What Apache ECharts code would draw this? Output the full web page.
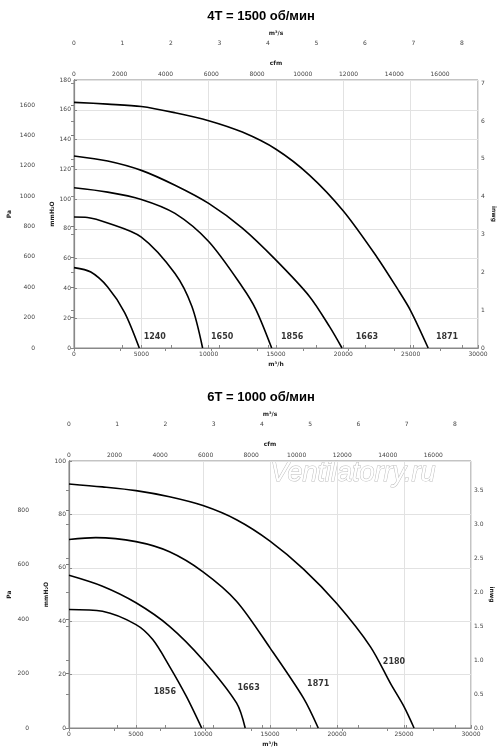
<!DOCTYPE html>
<html>
<head>
<meta charset="utf-8">
<script src="https://cdn.jsdelivr.net/npm/echarts@6/dist/echarts.min.js"></script>
<style>
  html, body { margin: 0; padding: 0; background: #fff; }
  #chart { width: 500px; height: 754px; }
</style>
</head>
<body>
<div id="chart"></div>
<script>
// 4T = 1500 об/мин : flow in m3/h, pressure in mmH2O
const q4_1871 = [0, 2500, 5000, 7500, 10000, 12500, 15000, 17500, 20000, 22500, 24000, 25000, 26300];
const p4_1871 = [165, 163.8, 162.2, 158, 152.7, 145, 133.5, 116, 92, 61, 40, 25, 0];
const q4_1663 = [0, 2500, 5000, 7500, 10000, 12500, 15000, 17500, 19000, 19900];
const p4_1663 = [129, 125.6, 119.3, 109.3, 97.1, 80.5, 59, 34.5, 14, 0];
const q4_1856 = [0, 2500, 5000, 7500, 10000, 12500, 13500, 14680];
const p4_1856 = [107.6, 104.7, 99.8, 90.4, 71.5, 41, 26, 0];
const q4_1650 = [0, 1000, 2500, 5000, 7500, 8750, 9550];
const p4_1650 = [88, 87.7, 84, 74.5, 50, 28, 0];
const q4_1240 = [0, 1250, 2500, 3750, 4850];
const p4_1240 = [54, 51, 41, 24, 0];

// 6T = 1000 об/мин
const q6_2180 = [0, 2500, 5000, 7500, 10000, 12500, 15000, 17500, 20000, 22500, 24000, 25000, 25750];
const p6_2180 = [91.4, 90.3, 88.9, 86.6, 83.3, 78, 70, 59.5, 46.5, 30.4, 16.6, 8, 0];
const q6_1871 = [0, 2000, 5000, 7500, 10000, 12500, 15000, 17500, 18600];
const p6_1871 = [70.6, 71.3, 69.8, 66, 58.5, 47.5, 30, 11.2, 0];
const q6_1663 = [0, 2500, 5000, 7500, 10000, 12500, 13150];
const p6_1663 = [57.2, 53.1, 46.9, 38.1, 25.5, 9.4, 0];
const q6_1856 = [0, 2500, 5000, 6250, 7500, 8750, 9900];
const p6_1856 = [44.4, 43.7, 38.7, 33.1, 23.1, 11.9, 0];

// curve labels (anchor in m3/h, mmH2O)
const labels4 = ['1240', '1650', '1856', '1663', '1871'];
const labelQ4 = [6000, 11000, 16200, 21750, 27700];
const labelP4 = [7.4, 7.4, 7.4, 7.4, 7.4];
const labels6 = ['1856', '1663', '1871', '2180'];
const labelQ6 = [7150, 13400, 18600, 24250];
const labelP6 = [13.5, 15, 16.5, 24.7];

const titles = ['4T = 1500 об/мин', '6T = 1000 об/мин'];
const qMax = 30000;
const mmMax = [180, 100];

const tickFont = { fontSize: 6, color: '#444', fontFamily: 'DejaVu Sans' };
const nameFont = { fontSize: 6, fontWeight: 'bold', color: '#222', fontFamily: 'DejaVu Sans' };
const axisGrey = { lineStyle: { color: '#888', width: 1 } };
const plain = v => String(v);

const grids = [
  { left: 74, right: 22, top: 80, height: 268 },
  { left: 69, right: 29, top: 461, height: 267 }
];
// name gaps per panel: [mmH2O, Pa, inwg]
const yNameGaps = [[19, 26, 13], [20, 20, 18]];

const xAxes = [];
const yAxes = [];
grids.forEach((g, i) => {
  const m = mmMax[i];
  const gaps = yNameGaps[i];
  xAxes.push({
    gridIndex: i, type: 'value', position: 'bottom', min: 0, max: qMax, interval: 5000,
    name: 'm³/h', nameLocation: 'middle', nameGap: 13, nameMoveOverlap: false, nameTextStyle: nameFont,
    axisLine: axisGrey, axisTick: { inside: true, length: 3, lineStyle: { color: '#888' } },
    axisLabel: Object.assign({ margin: 3, formatter: plain }, tickFont),
    splitLine: { show: true, lineStyle: { color: '#e2e2e2', width: 1 } }
  });
  xAxes.push({
    gridIndex: i, type: 'value', position: 'top', min: 0, max: qMax / 1.699, interval: 2000,
    name: 'cfm', nameLocation: 'middle', nameGap: 14, nameMoveOverlap: false, nameTextStyle: nameFont,
    axisLine: axisGrey, axisTick: { inside: true, length: 3, lineStyle: { color: '#888' } },
    axisLabel: Object.assign({ margin: 3, showMaxLabel: false, formatter: plain }, tickFont),
    splitLine: { show: false }
  });
  xAxes.push({
    gridIndex: i, type: 'value', position: 'top', offset: 31, min: 0, max: qMax / 3600, interval: 1,
    name: 'm³/s', nameLocation: 'middle', nameGap: 13, nameMoveOverlap: false, nameTextStyle: nameFont,
    axisLine: axisGrey, axisTick: { length: 3, lineStyle: { color: '#888' } },
    axisLabel: Object.assign({ margin: 3, showMaxLabel: false, formatter: plain }, tickFont),
    splitLine: { show: false }
  });
  yAxes.push({
    gridIndex: i, type: 'value', position: 'left', min: 0, max: m, interval: 20,
    name: 'mmH₂O', nameLocation: 'middle', nameGap: gaps[0], nameMoveOverlap: false, nameTextStyle: nameFont,
    axisLine: axisGrey, axisTick: { inside: true, length: 3, lineStyle: { color: '#888' } },
    axisLabel: Object.assign({ margin: 3, formatter: plain }, tickFont),
    splitLine: { show: true, lineStyle: { color: '#e2e2e2', width: 1 } }
  });
  yAxes.push({
    gridIndex: i, type: 'value', position: 'left', offset: i === 0 ? 36 : 37, min: 0, max: m * 9.80665, interval: 200,
    name: 'Pa', nameLocation: 'middle', nameGap: gaps[1], nameMoveOverlap: false, nameTextStyle: nameFont,
    axisLine: { lineStyle: { color: '#777', width: 1.2 } }, axisTick: { length: 3, lineStyle: { color: '#777' } },
    axisLabel: Object.assign({ margin: 3, showMaxLabel: false, formatter: plain }, tickFont),
    splitLine: { show: false }
  });
  yAxes.push({
    gridIndex: i, type: 'value', position: 'right', min: 0, max: m / 25.4, interval: i === 0 ? 1 : 0.5,
    name: 'inwg', nameLocation: 'middle', nameGap: gaps[2], nameRotate: -90, nameMoveOverlap: false, nameTextStyle: nameFont,
    axisLine: axisGrey, axisTick: { inside: true, length: 3, lineStyle: { color: '#888' } },
    axisLabel: Object.assign({
      margin: 3, showMaxLabel: false,
      formatter: v => (i === 0 ? String(v) : v.toFixed(1))
    }, tickFont),
    splitLine: { show: false }
  });
});

function curve(q, p, gi) {
  return {
    type: 'line', xAxisIndex: gi * 3, yAxisIndex: gi * 3,
    data: q.map((x, k) => [x, p[k]]),
    smooth: 0.3, showSymbol: false, symbol: 'none',
    lineStyle: { color: '#000', width: 1.6 }, silent: true, z: 3
  };
}

function curveLabels(names, q, p, gi) {
  return {
    type: 'scatter', xAxisIndex: gi * 3, yAxisIndex: gi * 3,
    data: names.map((n, k) => [q[k], p[k], n]),
    symbolSize: 1, itemStyle: { color: 'rgba(0,0,0,0)' }, silent: true,
    label: {
      show: true, position: 'inside', formatter: d => d.value[2],
      fontSize: 8, fontWeight: 'bold', color: '#000', fontFamily: 'DejaVu Sans'
    }
  };
}

const chart = echarts.init(document.getElementById('chart'));
chart.setOption({
  animation: false,
  backgroundColor: '#fff',
  title: [
    { text: titles[0], left: 256, top: 5, textAlign: 'center',
      textStyle: { fontSize: 13, fontWeight: 'bold', color: '#000', fontFamily: 'Liberation Sans' } },
    { text: titles[1], left: 256, top: 386, textAlign: 'center',
      textStyle: { fontSize: 13, fontWeight: 'bold', color: '#000', fontFamily: 'Liberation Sans' } }
  ],
  grid: grids.map(g => Object.assign({
    show: true, borderColor: '#888', borderWidth: 1, backgroundColor: '#fff',
    containLabel: false, outerBoundsMode: 'none'
  }, g)),
  xAxis: xAxes,
  yAxis: yAxes,
  graphic: [{
    type: 'text', left: 270, top: 459, silent: true,
    style: {
      text: 'Ventilatorry.ru', fontSize: 27, fontStyle: 'italic', fontFamily: 'Liberation Sans',
      fill: '#fff', stroke: '#bdbdbd', lineWidth: 1
    }
  }],
  series: [
    curve(q4_1871, p4_1871, 0),
    curve(q4_1663, p4_1663, 0),
    curve(q4_1856, p4_1856, 0),
    curve(q4_1650, p4_1650, 0),
    curve(q4_1240, p4_1240, 0),
    curveLabels(labels4, labelQ4, labelP4, 0),
    curve(q6_2180, p6_2180, 1),
    curve(q6_1871, p6_1871, 1),
    curve(q6_1663, p6_1663, 1),
    curve(q6_1856, p6_1856, 1),
    curveLabels(labels6, labelQ6, labelP6, 1)
  ]
});
</script>
</body>
</html>
